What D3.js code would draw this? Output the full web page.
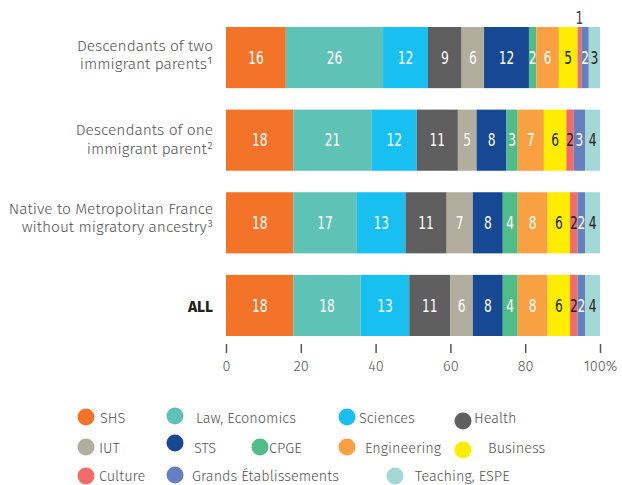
<!DOCTYPE html>
<html><head><meta charset="utf-8">
<script src="https://cdn.jsdelivr.net/npm/d3@7"></script>
<style>
html,body{margin:0;padding:0;background:#fff;}
svg{display:block;}
</style></head>
<body>
<svg id="chart" width="622" height="485"></svg>
<script>
const groups = [
  ["Descendants of two", "immigrant parents\u00B9"],
  ["Descendants of one", "immigrant parent\u00B2"],
  ["Native to Metropolitan France", "without migratory ancestry\u00B3"],
  ["ALL"]
];
const categories = ["SHS","Law, Economics","Sciences","Health","IUT","STS","CPGE","Engineering","Business","Culture","Grands Établissements","Teaching, ESPE"];
const rowTwo    = [16,26,12,9,6,12,2,6,5,1,2,3];
const rowOne    = [18,21,12,11,5,8,3,7,6,2,3,4];
const rowNative = [18,17,13,11,7,8,4,8,6,2,2,4];
const rowAll    = [18,18,13,11,6,8,4,8,6,2,2,4];
const series = [rowTwo,rowOne,rowNative,rowAll];
const tickValues = [0,20,40,60,80,100];
const tickLabels = ["0","20","40","60","80","100%"];

const colors = ["#F37329","#5EC3B6","#18C0F2","#5E5F5E","#B2AD9C","#164893","#50BD88","#F9A043","#FFED00","#F26B6B","#6580C0","#A2D8D5"];
const darkLabel = [false,false,false,false,false,false,false,false,true,true,false,true];
// legend layout: [circle cx, circle cy, text x, text y]
const legendLayout = [
  [86,417,100,418],[175,416,196,418],[347,417,359,418],[463,421,474,418],
  [86,447,99,448],[175,443,194,448],[260,447,269,448],[347,447,365,448],[463,450,488,448],
  [86,476,99,476],[175,475,192,476],[395,476,415,476]
];

const svg = d3.select("#chart");
const x = d3.scaleLinear().domain([0,100]).range([226,600]);
const y = d3.scaleBand().domain(d3.range(groups.length)).range([27,336]).paddingInner(0.26).paddingOuter(0);

// bars
series.forEach((vals, gi) => {
  let acc = 0;
  const segs = vals.map((v,i) => { const s = {i, v, x0: acc, x1: acc + v}; acc += v; return s; });
  const g = svg.append("g");
  g.selectAll("rect").data(segs).join("rect")
    .attr("x", d => x(d.x0))
    .attr("y", y(gi))
    .attr("width", d => x(d.x1) - x(d.x0))
    .attr("height", y.bandwidth())
    .attr("fill", d => colors[d.i]);
  g.selectAll("text").data(segs).join("text")
    .attr("transform", d => {
      const cx = x((d.x0 + d.x1)/2);
      const cy = d.v < 1.5 ? y(gi) - 9 : y(gi) + y.bandwidth()/2;
      return `translate(${cx},${cy}) scale(0.8,1)`;
    })
    .attr("dy", "0.36em")
    .attr("text-anchor", "middle")
    .attr("font-family", "'Liberation Sans Narrow', 'DejaVu Sans Condensed', sans-serif")
    .attr("font-size", 17)
    .attr("fill", d => d.v < 1.5 ? "#444" : (darkLabel[d.i] ? "#222" : "#fff"))
    .text(d => d.v);
});

// category labels
const lblOffsets = [-3, -1, -5, 1];
groups.forEach((lines, gi) => {
  const cy = y(gi) + y.bandwidth()/2 + lblOffsets[gi];
  const t = svg.append("text")
    .attr("text-anchor", "end")
    .attr("font-family", "'Fira Sans','Open Sans', sans-serif")
    .attr("font-size", 15.5)
    .attr("fill", lines.length === 1 ? "#222" : "#555")
    .attr("font-weight", lines.length === 1 ? "bold" : 300);
  const lh = 18.5;
  lines.forEach((ln, li) => {
    t.append("tspan")
      .attr("x", 213)
      .attr("y", cy + (li - (lines.length-1)/2) * lh)
      .attr("dy", "0.35em")
      .text(ln);
  });
});

// axis
const axis = d3.axisBottom(x).tickValues(tickValues).tickSize(9).tickPadding(8)
  .tickFormat((d,i) => tickLabels[i]);
const ax = svg.append("g").attr("transform", "translate(0,344)").call(axis);
ax.select(".domain").remove();
ax.selectAll(".tick line").attr("stroke", "#555").attr("stroke-width", 1.5);
ax.selectAll(".tick text").attr("font-family", "'Fira Sans','Open Sans', sans-serif")
  .attr("font-size", 14.5).attr("font-weight", 300).attr("fill", "#555");

// legend
const lg = svg.append("g");
categories.forEach((c, i) => {
  const [cx, cy, tx, ty] = legendLayout[i];
  lg.append("circle").attr("cx", cx).attr("cy", cy).attr("r", 8.5).attr("fill", colors[i]);
  lg.append("text").attr("x", tx).attr("y", ty).attr("dy", "0.35em")
    .attr("font-family", "'Fira Sans','Open Sans', sans-serif")
    .attr("font-size", 14.5).attr("font-weight", 300).attr("fill", "#555").text(c);
});
</script>
</body></html>
